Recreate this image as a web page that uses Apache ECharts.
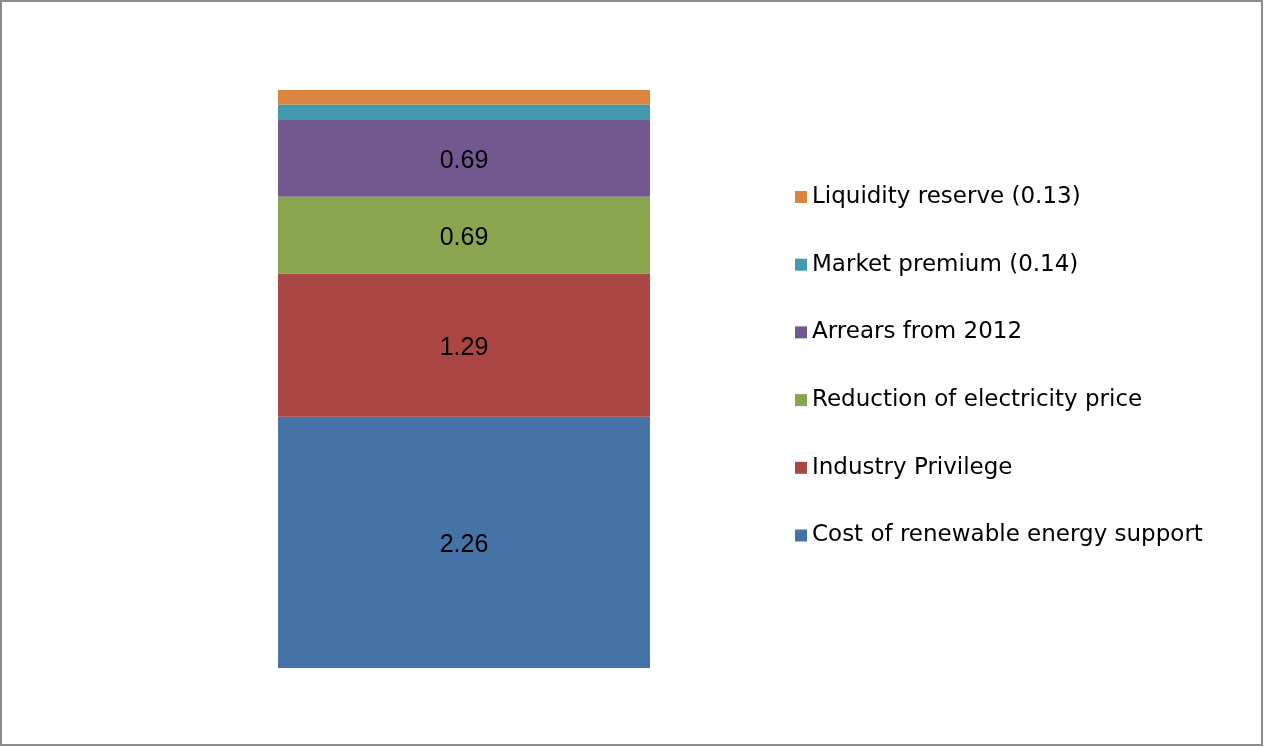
<!DOCTYPE html>
<html>
<head>
<meta charset="utf-8">
<script src="https://cdn.jsdelivr.net/npm/echarts@6/dist/echarts.min.js"></script>
<style>
html,body{margin:0;padding:0;background:#fff;}
#chart{width:1264px;height:747px;}
</style>
</head>
<body>
<div id="chart"></div>
<script>
// Series, bottom to top of the stack
const seriesNames = [
  'Cost of renewable energy support',
  'Industry Privilege',
  'Reduction of electricity price',
  'Arrears from 2012',
  'Market premium (0.14)',
  'Liquidity reserve (0.13)'
];
const seriesValues = [2.26, 1.29, 0.69, 0.69, 0.14, 0.13];
const showLabel = [true, true, true, true, false, false];
const seriesColors = ['#4572A7', '#AA4643', '#89A54E', '#71588F', '#4198AF', '#DB843D'];
const categories = [''];

const chart = echarts.init(document.getElementById('chart'), null, {renderer: 'canvas'});

const series = seriesNames.map((name, i) => ({
  name: name,
  type: 'bar',
  stack: 'total',
  barWidth: '100%',
  data: [seriesValues[i]],
  itemStyle: {color: seriesColors[i]},
  label: {
    show: showLabel[i],
    position: 'inside',
    offset: [0, 3],
    color: '#000',
    fontFamily: 'Liberation Sans, Arial, sans-serif',
    fontSize: 25,
    formatter: (p) => p.value.toFixed(2)
  },
  emphasis: {disabled: true}
}));

chart.setOption({
  animation: false,
  backgroundColor: '#fff',
  grid: {left: 278, right: 614, top: 90, bottom: 79},
  xAxis: {type: 'category', data: categories, show: false},
  yAxis: {type: 'value', min: 0, max: 5.2, show: false},
  legend: {
    orient: 'vertical',
    left: 795,
    top: 185,
    padding: 0,
    data: seriesNames.slice().reverse(),
    icon: 'rect',
    itemWidth: 12,
    itemHeight: 12,
    itemGap: 43.7,
    selectedMode: false,
    textStyle: {
      fontFamily: 'DejaVu Sans, sans-serif',
      fontSize: 23,
      lineHeight: 24,
      color: '#000'
    }
  },
  graphic: [{
    type: 'rect',
    shape: {x: 1, y: 1, width: 1261, height: 744},
    style: {fill: 'none', stroke: '#8c8c8c', lineWidth: 2},
    silent: true
  }],
  series: series
});
</script>
</body>
</html>
